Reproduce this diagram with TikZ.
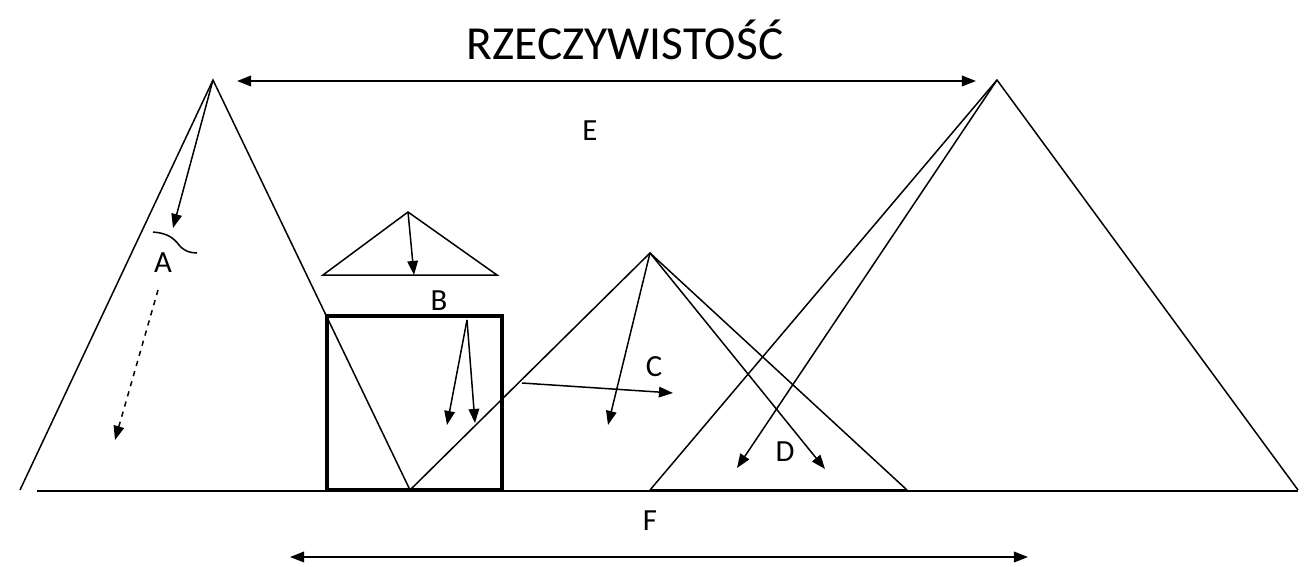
\documentclass[tikz,border=0pt]{standalone}
\usepackage{fontspec}
\setmainfont{Carlito}
\usetikzlibrary{arrows.meta}

\begin{document}
\begin{tikzpicture}[x=0.02cm,y=-0.02cm,line width=0.85pt,
    ray/.style={-{Triangle[length=8pt,width=6pt]}},
    span/.style={line width=1.1pt,{Triangle[length=8pt,width=6pt]}-{Triangle[length=8pt,width=6pt]}},
    lbl/.style={font=\fontsize{17.5}{20}\selectfont}]
  \useasboundingbox (0,0) rectangle (1312,566);
  % title
  \node[font=\fontsize{27}{30}\selectfont] (title) at (625,40) {RZECZYWISTOŚĆ};
  % vertices
  \coordinate (topA) at (213,80);
  \coordinate (leftA) at (20,490);
  \coordinate (foot) at (410,490);
  \coordinate (topC) at (650,253);
  \coordinate (rightC) at (907,490);
  \coordinate (leftD) at (650,490);
  \coordinate (topE) at (997,80);
  \coordinate (rightE) at (1298,490);
  \coordinate (groundL) at (37,491);
  \coordinate (groundR) at (1298,491);
  % ground and mountains
  \draw (groundL) -- (groundR);
  \draw (leftA) -- (topA) -- (foot) -- (topC) -- (rightC);
  \draw (leftD) -- (topE) -- (rightE);
  \draw[line width=1.2pt] (leftD) -- (rightC);
  % box
  \draw[line width=2.4pt] (327,316) rectangle (502,490);
  % small roof
  \coordinate (topB) at (408,212);
  \draw (323,275) -- (topB) -- (497,275) -- cycle;
  \draw[ray] (topB) -- (414,275);
  % A
  \draw[ray] (topA) -- (173,228);
  \draw (153,232) .. controls (166,233) and (173,237) .. (179,245)
       .. controls (184,251) and (190,253) .. (197,253);
  \draw[ray,dashed] (158,290) -- (115,440);
  % B
  \coordinate (srcB) at (467,320);
  \draw[ray] (srcB) -- (447,425);
  \draw[ray] (srcB) -- (475,423);
  % C
  \draw[ray] (topC) -- (608,425);
  \draw[ray] (522,383) -- (673,393);
  % D
  \draw[ray] (topC) -- (825,469);
  \draw[ray] (topE) -- (737,468);
  % E and F
  \draw[span] (237,81) -- (976,81);
  \draw[span] (290,557) -- (1028,557);
  % labels
  \node[lbl] (labA) at (163,263) {A};
  \node[lbl] (labB) at (439,301) {B};
  \node[lbl] (labC) at (654,367) {C};
  \node[lbl] (labD) at (785,452) {D};
  \node[lbl] (labE) at (590,131) {E};
  \node[lbl] (labF) at (650,521) {F};
\end{tikzpicture}
\end{document}
